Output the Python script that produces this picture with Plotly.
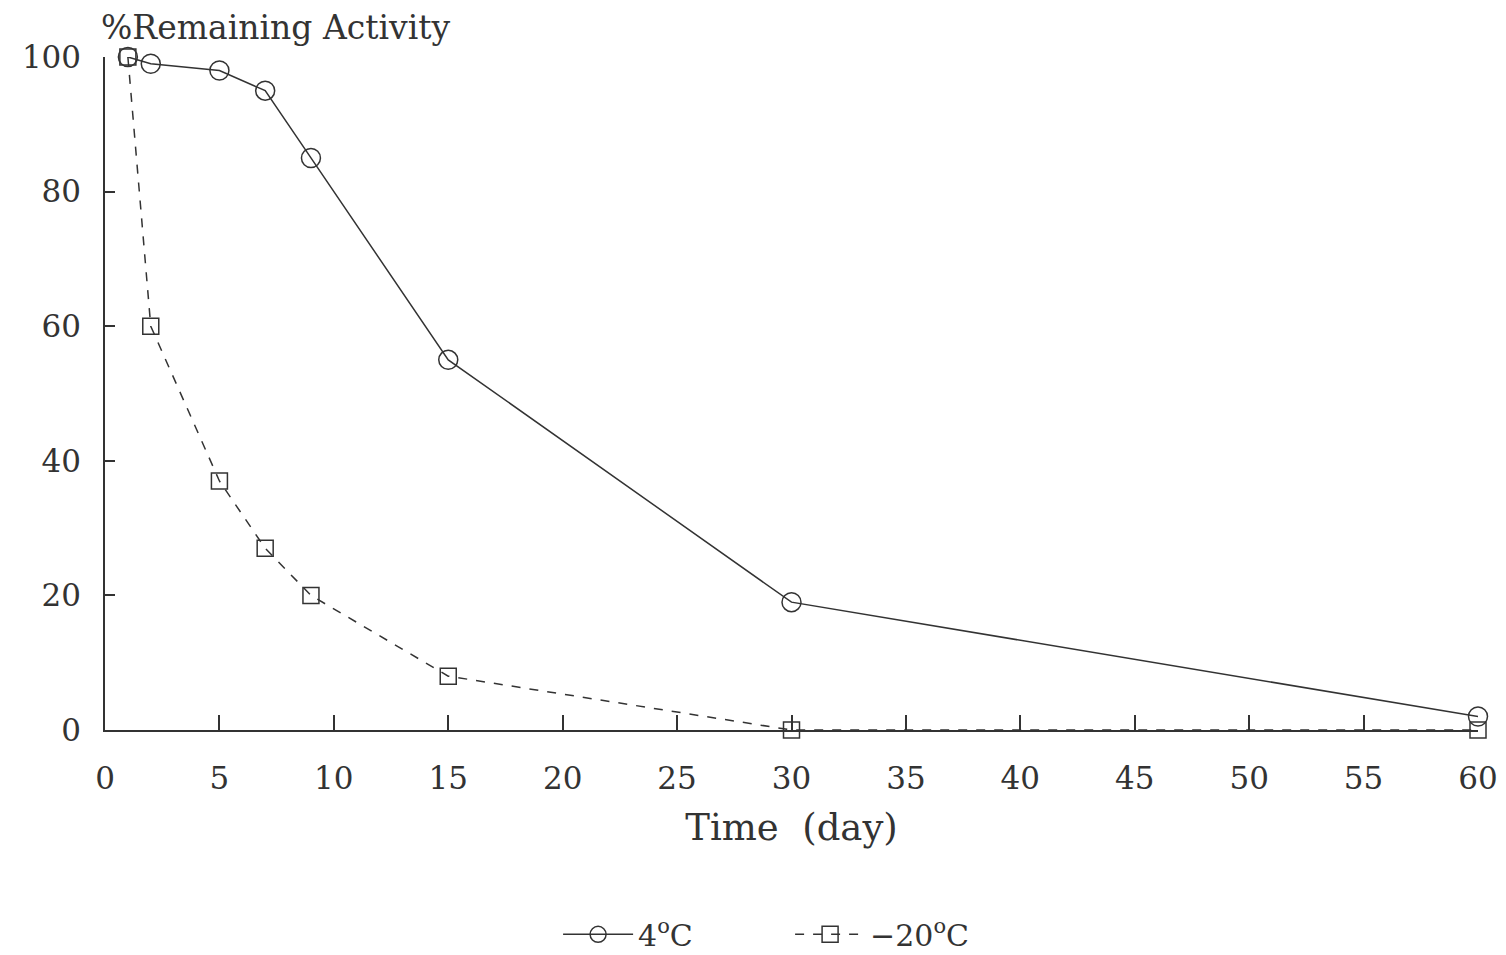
import plotly.graph_objects as go

days = [1, 2, 5, 7, 9, 15, 30, 60]
act_4c = [100, 99, 98, 95, 85, 55, 19, 2]
act_m20c = [100, 60, 37, 27, 20, 8, 0, 0]
x_ticks = [0, 5, 10, 15, 20, 25, 30, 35, 40, 45, 50, 55, 60]
y_ticks = [0, 20, 40, 60, 80, 100]

FONT = "DejaVu Serif"
INK = "#333333"

fig = go.Figure()
fig.add_trace(go.Scatter(
    x=days, y=act_4c, mode="lines+markers", name="4<sup>o</sup>C",
    line=dict(color=INK, width=1.5, dash="solid"),
    marker=dict(symbol="circle-open", size=19, color=INK, line=dict(width=1.5)),
    cliponaxis=False,
))
fig.add_trace(go.Scatter(
    x=days, y=act_m20c, mode="lines+markers", name="\u221220<sup>o</sup>C",
    line=dict(color=INK, width=1.5, dash="dash"),
    marker=dict(symbol="square-open", size=16, color=INK, line=dict(width=1.5)),
    cliponaxis=False,
))

fig.update_layout(
    width=1506, height=955,
    paper_bgcolor="white", plot_bgcolor="white",
    margin=dict(l=97, r=36, t=49, b=233, autoexpand=False),
    font=dict(family=FONT, color=INK, size=30),
    showlegend=True,
    legend=dict(orientation="h", x=0.33, xanchor="left", y=-0.265, yanchor="top",
                font=dict(size=30, family=FONT), itemwidth=70,
                entrywidth=147, entrywidthmode="pixels"),
    annotations=[
        dict(text="%Remaining Activity", xref="paper", yref="paper", x=0, y=1.0,
             xanchor="left", yanchor="bottom", xshift=-6, yshift=8, showarrow=False,
             font=dict(size=33, family=FONT, color=INK)),
    ],
)
fig.update_xaxes(
    range=[0, 60], tickvals=x_ticks, ticktext=[str(v) for v in x_ticks],
    showgrid=False, zeroline=False, showline=True, linecolor=INK, linewidth=1.5,
    ticks="inside", ticklen=15, tickwidth=1.5, tickcolor=INK, automargin=False,
    tickfont=dict(size=31, family=FONT), ticklabelstandoff=20,
    title=dict(text="Time  (day)", font=dict(size=37, family=FONT), standoff=19),
)
fig.update_yaxes(
    range=[0, 100], tickvals=y_ticks, ticktext=[str(v) for v in y_ticks],
    showgrid=False, zeroline=False, showline=True, linecolor=INK, linewidth=1.5,
    ticks="inside", ticklen=10, tickwidth=1.5, tickcolor=INK, automargin=False,
    tickfont=dict(size=31, family=FONT), ticklabelstandoff=16,
)

fig.write_html("out.html")
